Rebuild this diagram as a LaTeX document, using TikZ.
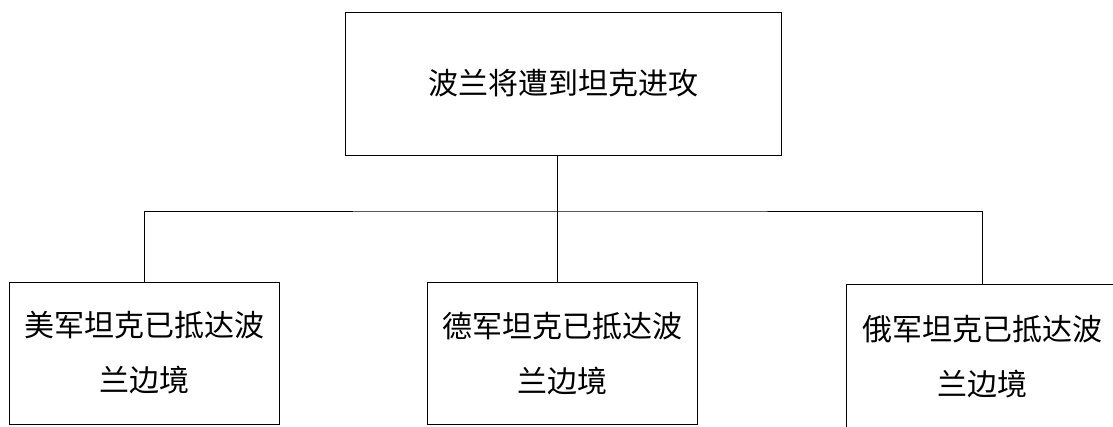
\documentclass[tikz,border=0pt]{standalone}
\usepackage{fontspec}
\setmainfont{Noto Sans CJK SC}
\usetikzlibrary{positioning}

\begin{document}
\begin{tikzpicture}[x=1pt,y=-1pt]
        \tikzset{
          box/.style={draw, line width=1pt, align=center, inner sep=0pt,
                      font=\fontsize{30}{55}\selectfont},
          report/.style={box, minimum width=270pt, minimum height=142pt},
          link/.style={line width=1pt}
        }
        \useasboundingbox (0,0) rectangle (1113,426);
        \clip (0,0) rectangle (1113,426);

        \node[box, minimum width=436pt, minimum height=143pt] (attack) at (563,83.5) {波兰将遭到坦克进攻};
        \node[report] (us) at (144,353) {美军坦克已抵达波\\兰边境};
        \node[report] (de) at (562,353.5) {德军坦克已抵达波\\兰边境};
        \node[report, minimum width=272pt, minimum height=146pt] (ru) at (982,357) {俄军坦克已抵达波\\兰边境};

        \coordinate (fork) at (557,211);

        \draw[link] (attack.south -| fork) -- (fork);
        \draw[link] (us.north) |- (fork) -| (ru.north);
        \draw[link] (fork) -- (de.north -| fork);
    \end{tikzpicture}
\end{document}
